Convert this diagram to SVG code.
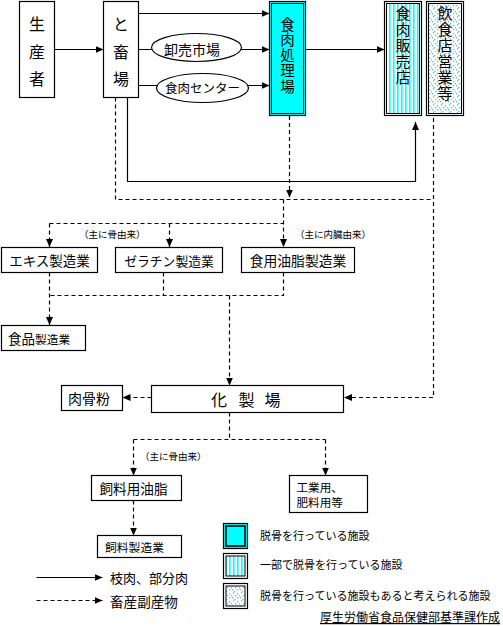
<svg xmlns="http://www.w3.org/2000/svg" width="503" height="626" viewBox="0 0 503 626">
<style>
.t{font-family:"Noto Sans CJK JP","Noto Sans CJK SC",sans-serif;fill:#000;dominant-baseline:central}
.v{font-family:"Noto Sans CJK JP","Noto Sans CJK SC",sans-serif;fill:#000;writing-mode:vertical-rl;text-orientation:upright}
.m{text-anchor:middle}
.bx{fill:#fff;stroke:#000;stroke-width:1.2}
.in{stroke:#000;stroke-width:1}
.s{fill:none;stroke:#000;stroke-width:1.2}
.d{stroke-dasharray:4 3}
.a{marker-end:url(#ah)}
</style>
<defs>
<marker id="ah" viewBox="0 0 8 7" refX="8" refY="3.5" markerWidth="8" markerHeight="7" markerUnits="userSpaceOnUse" orient="auto">
<path d="M0,0 L8,3.5 L0,7 Z" fill="#000"/>
</marker>
<pattern id="stripes" width="4" height="4" patternUnits="userSpaceOnUse">
<rect width="4" height="4" fill="#fff"/>
<rect x="1" width="1.6" height="4" fill="#00ffff"/>
</pattern>
<pattern id="dots" width="8" height="8" patternUnits="userSpaceOnUse">
<rect width="8" height="8" fill="#fff"/>
<rect x="1" y="0" width="1.3" height="1.3" fill="#00e8f0"/>
<rect x="5" y="1" width="1.3" height="1.3" fill="#00e8f0"/>
<rect x="3" y="3" width="1.3" height="1.3" fill="#00e8f0"/>
<rect x="7" y="3" width="1" height="1.3" fill="#00e8f0"/>
<rect x="0" y="5" width="1.3" height="1.3" fill="#00e8f0"/>
<rect x="5" y="5" width="1.3" height="1.3" fill="#00e8f0"/>
<rect x="2" y="7" width="1.3" height="1" fill="#00e8f0"/>
</pattern>
</defs>
<rect width="503" height="626" fill="#fff"/>

<g id="connectors">
<path class="s a" d="M54.5,49.5 H103.5"/>
<path class="s a" d="M138.5,13.5 H269.5"/>
<path class="s a" d="M138.5,49.5 H269.5"/>
<path class="s a" d="M138.5,85.5 H269.5"/>
<path class="s a" d="M305.5,49.5 H384.5"/>
<path class="s a" d="M127.5,97.5 V181.5 H415.5 V122"/>
<path class="s d" d="M115.5,97.5 V199.5 H433.5"/>
<path class="s d a" d="M433.5,118 V397.5 H344"/>
<path class="s d a" d="M289.5,116 V197.5"/>
<path class="s d a" d="M283.5,199.5 V247"/>
<path class="s d" d="M49.5,223.5 H283.5"/>
<path class="s d a" d="M49.5,223.5 V247"/>
<path class="s d a" d="M169.5,223.5 V247"/>
<path class="s d a" d="M49.5,272.5 V325"/>
<path class="s d" d="M163.5,272.5 V295.5"/>
<path class="s d" d="M283.5,272.5 V295.5 H49.5"/>
<path class="s d a" d="M229.5,295.5 V385.5"/>
<path class="s d a" d="M151.5,397.5 H122.5"/>
<path class="s d" d="M229.5,412.5 V439.5"/>
<path class="s d" d="M133.5,439.5 H325.5"/>
<path class="s d a" d="M133.5,439.5 V475.5"/>
<path class="s d a" d="M325.5,439.5 V475.5"/>
<path class="s d a" d="M133.5,500.5 V535.5"/>
</g>

<g id="seisansha">
<rect class="bx" x="19.5" y="1.5" width="35" height="96"/>
<text class="v" x="37" y="16" font-size="16" letter-spacing="11.5">生産者</text>
</g>
<g id="tochikujo">
<rect class="bx" x="103.5" y="1.5" width="35" height="96"/>
<text class="v" x="121" y="16" font-size="16" letter-spacing="11.5">と畜場</text>
</g>
<g id="oroshiuri">
<ellipse class="bx" cx="196.5" cy="47.5" rx="45" ry="14"/>
<text class="t m" x="192" y="49" font-size="14">卸売市場</text>
</g>
<g id="shokuniku-center">
<ellipse class="bx" cx="202.5" cy="88" rx="46" ry="14.5"/>
<text class="t m" x="202.5" y="87" font-size="12.5">食肉センター</text>
</g>
<g id="shokuniku-shorijo">
<rect x="269.5" y="1.5" width="36" height="114" fill="#00ffff" stroke="#000" stroke-width="1.2"/>
<rect class="in" x="271.5" y="3.5" width="32" height="110" fill="none"/>
<text class="v" x="287.5" y="17.2" font-size="14.5" letter-spacing="1">食肉処理場</text>
</g>
<g id="shokuniku-hanbaiten">
<rect class="bx" x="384.5" y="1.5" width="37" height="114"/>
<rect class="in" x="386.5" y="3.5" width="33" height="110" fill="url(#stripes)"/>
<text class="v" x="403" y="5.5" font-size="15" letter-spacing="1">食肉販売店</text>
</g>
<g id="inshokuten">
<rect class="bx" x="426.5" y="1.5" width="37" height="114"/>
<rect class="in" x="428.5" y="3.5" width="33" height="110" fill="url(#dots)"/>
<text class="v" x="445" y="5.5" font-size="15" letter-spacing="1">飲食店営業等</text>
</g>

<g id="label-hone1"><text class="t" x="79" y="233.5" font-size="9.5">（主に骨由来）</text></g>
<g id="label-naizo"><text class="t" x="295" y="233.5" font-size="9.5">（主に内臓由来）</text></g>

<g id="ekisu">
<rect class="bx" x="1.5" y="247.5" width="96" height="25"/>
<text class="t m" x="49.5" y="260" font-size="13.5">エキス製造業</text>
</g>
<g id="zerachin">
<rect class="bx" x="115.5" y="247.5" width="107" height="25"/>
<text class="t m" x="169" y="260" font-size="12.8">ゼラチン製造業</text>
</g>
<g id="shokuyo-yushi">
<rect class="bx" x="241.5" y="247.5" width="113" height="25"/>
<text class="t m" x="298" y="260" font-size="13.8">食用油脂製造業</text>
</g>
<g id="shokuhin">
<rect class="bx" x="1.5" y="325.5" width="84" height="25"/>
<text class="t" x="8" y="338" font-size="13.5">食品<tspan font-size="11.7">製造業</tspan></text>
</g>
<g id="nikukotsufun">
<rect class="bx" x="61.5" y="385.5" width="61" height="25"/>
<text class="t m" x="89" y="398" font-size="14">肉骨粉</text>
</g>
<g id="kaseijo">
<rect class="bx" x="151.5" y="385.5" width="192" height="27"/>
<text class="t m" font-size="16"><tspan x="219" y="399">化</tspan><tspan x="246.5" y="399">製</tspan><tspan x="272.5" y="399">場</tspan></text>
</g>
<g id="label-hone2"><text class="t" x="140" y="455.5" font-size="9.5">（主に骨由来）</text></g>
<g id="shiryoyo-yushi">
<rect class="bx" x="91.5" y="475.5" width="90" height="25"/>
<text class="t m" x="133.5" y="488" font-size="13.6">飼料用油脂</text>
</g>
<g id="kogyoyo">
<rect class="bx" x="289.5" y="475.5" width="78" height="37"/>
<text class="t" font-size="11.6"><tspan x="296.5" y="487">工業用、</tspan><tspan x="296.5" y="501.5">肥料用等</tspan></text>
</g>
<g id="shiryo-seizo">
<rect class="bx" x="97.5" y="535.5" width="84" height="22"/>
<text class="t m" x="134.5" y="546.5" font-size="11.8">飼料製造業</text>
</g>

<g id="legend">
<path class="s a" d="M36.5,577.5 H102.5"/>
<path class="s d a" d="M36.5,600.5 H102.5"/>
<text class="t" x="110" y="577.5" font-size="13">枝肉、部分肉</text>
<text class="t" x="110" y="600.5" font-size="13.6">畜産副産物</text>
<rect x="223.5" y="523.5" width="24" height="25" fill="#00ffff" stroke="#000" stroke-width="1.2"/>
<rect x="226" y="526" width="19" height="20" fill="none" stroke="#000" stroke-width="1.6"/>
<rect class="bx" x="223.5" y="553.5" width="24" height="25"/>
<rect class="in" x="226" y="556" width="19" height="20" fill="url(#stripes)"/>
<rect class="bx" x="223.5" y="583.5" width="24" height="25"/>
<rect class="in" x="226" y="586" width="19" height="20" fill="url(#dots)"/>
<text class="t" x="260" y="534.5" font-size="11">脱骨を行っている施設</text>
<text class="t" x="260" y="564" font-size="11">一部で脱骨を行っている施設</text>
<text class="t" x="260" y="594.5" font-size="11">脱骨を行っている施設もあると考えられる施設</text>
</g>
<g id="credit">
<text class="t" x="320" y="616.5" font-size="12" text-decoration="underline">厚生労働省食品保健部基準課作成</text>
</g>
</svg>
